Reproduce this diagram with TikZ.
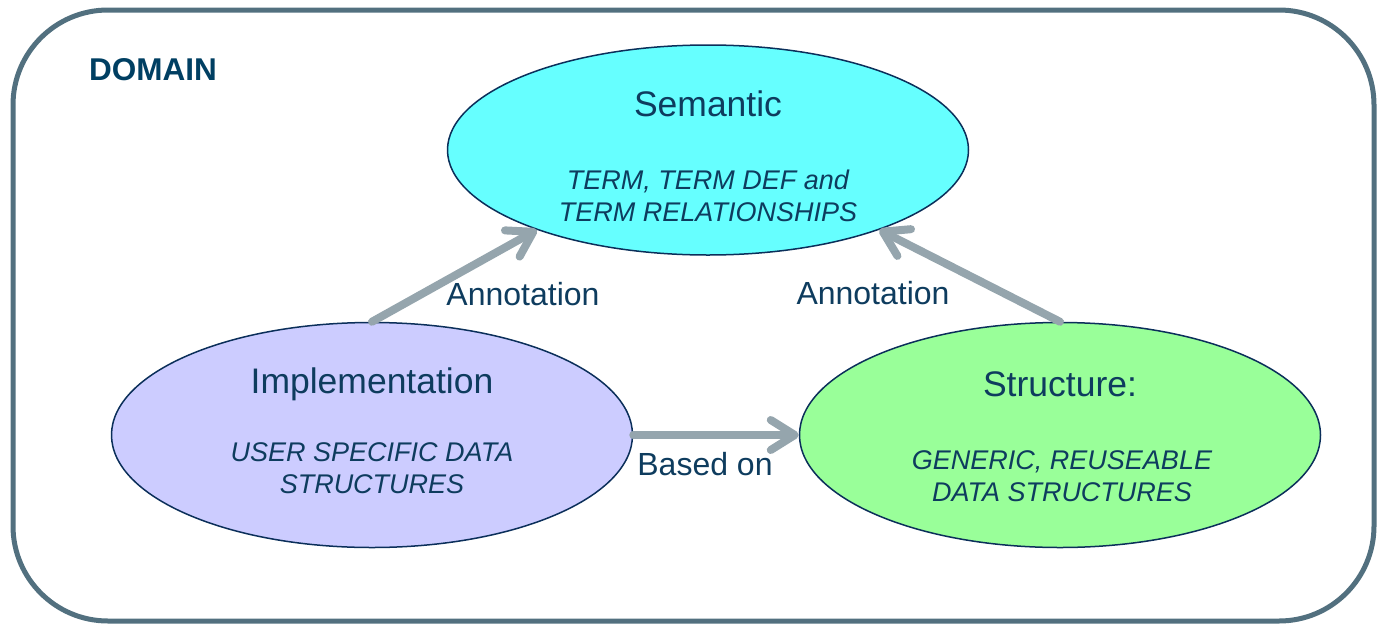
\documentclass[tikz,border=0pt]{standalone}
\usepackage{fontspec}
\setmainfont{Liberation Sans}
\usetikzlibrary{shapes.geometric,arrows.meta}
\definecolor{frameC}{HTML}{52707F}
\definecolor{txtC}{HTML}{0E3C5E}
\definecolor{domC}{HTML}{003F62}
\definecolor{arrC}{HTML}{95A5AD}
\definecolor{edgeC}{HTML}{0B2F5A}
\definecolor{semC}{HTML}{66FFFF}
\definecolor{impC}{HTML}{CCCCFF}
\definecolor{strC}{HTML}{99FF99}
\tikzset{
  blob/.style={ellipse, draw=edgeC, line width=1.5pt, inner sep=0pt},
  title/.style={text=txtC, font=\fontsize{35.5}{40}\selectfont, inner sep=0pt},
  sub/.style={text=txtC, font=\fontsize{27}{31.5}\selectfont\itshape, align=center, inner sep=0pt},
  lab/.style={text=txtC, font=\fontsize{32}{36}\selectfont, inner sep=0pt},
  conn/.style={draw=arrC, line width=8pt, line cap=round, line join=round,
    -{Straight Barb[length=24pt, width=30pt, line cap=round, line join=round]}},
}
\begin{document}
\begin{tikzpicture}[x=1pt,y=-1pt]
\useasboundingbox (0,0) rectangle (1378,624);
\draw[frameC, line width=5pt, rounded corners=95pt] (13,10) rectangle (1374,621);
\node[text=domC, font=\fontsize{31.5}{34}\selectfont\bfseries, inner sep=0pt] (dom) at (153,70) {DOMAIN};
\node[blob, fill=semC, minimum width=521pt, minimum height=210pt] (sem) at (708,150) {};
\node[blob, fill=impC, minimum width=521pt, minimum height=225pt] (imp) at (372,435) {};
\node[blob, fill=strC, minimum width=521pt, minimum height=225pt] (str) at (1060,435) {};
\node[title] (semt) at (708,104) {Semantic};
\node[sub] (sems) at (708,196) {TERM, TERM DEF and\\TERM RELATIONSHIPS};
\node[title] (impt) at (372,384) {Implementation};
\node[sub] (imps) at (372,468) {USER SPECIFIC DATA\\STRUCTURES};
\node[title] (strt) at (1060,384) {Structure:};
\node[sub] (strs) at (1062,476) {GENERIC, REUSEABLE\\DATA STRUCTURES};
\draw[conn] (imp.north) -- (sem.205);
\draw[conn] (str.north) -- (sem.335);
\draw[conn] (imp.east) -- (str.west);
\node[lab] (l1) at (523,294) {Annotation};
\node[lab] (l2) at (873,293) {Annotation};
\node[lab] (l3) at (705,464) {Based on};
\end{tikzpicture}
\end{document}
